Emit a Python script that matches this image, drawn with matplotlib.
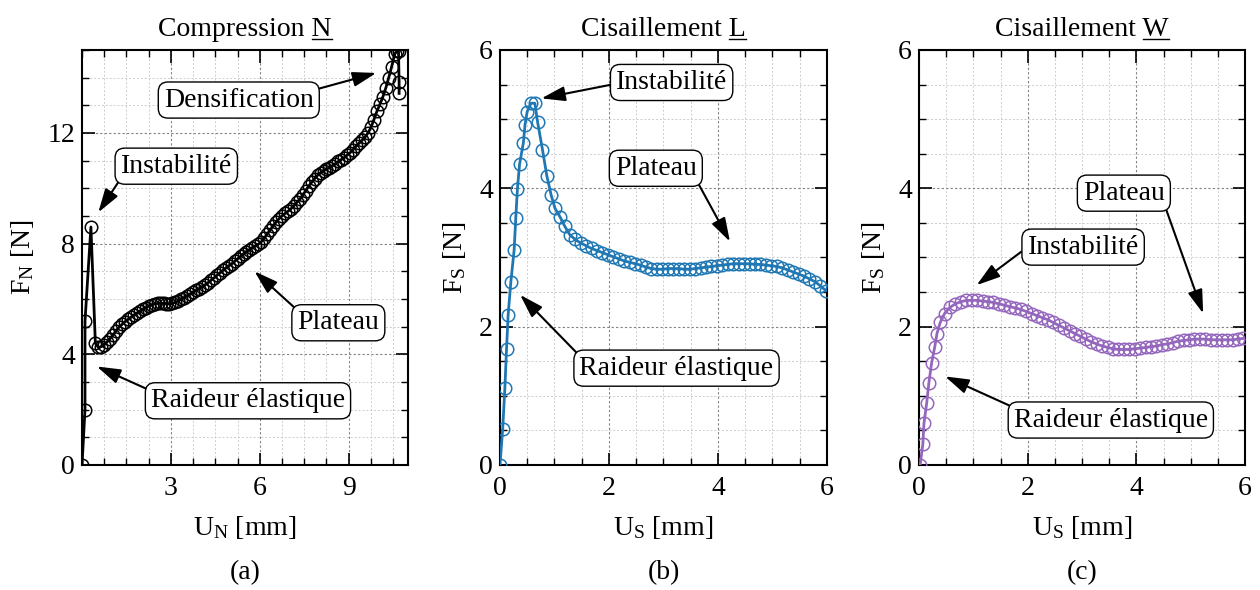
import matplotlib
matplotlib.use("Agg")
import matplotlib.pyplot as plt
from matplotlib.ticker import MultipleLocator
from matplotlib.lines import Line2D

plt.rcParams['font.family'] = ['Liberation Serif', 'DejaVu Serif']
plt.rcParams['mathtext.fontset'] = 'custom'
plt.rcParams['mathtext.rm'] = 'Liberation Serif'
plt.rcParams['mathtext.it'] = 'Liberation Serif:italic'

FS = 20

# (a) compression N
u_n = [0.00, 0.10, 0.10, 0.30, 0.45, 0.55, 0.65, 0.75, 0.85, 0.95,
       1.05, 1.15, 1.25, 1.35, 1.45, 1.55, 1.65, 1.75, 1.85, 1.95,
       2.05, 2.15, 2.25, 2.35, 2.45, 2.55, 2.65, 2.75, 2.85, 2.95,
       3.05, 3.15, 3.25, 3.35, 3.45, 3.55, 3.65, 3.75, 3.85, 3.95,
       4.05, 4.15, 4.25, 4.35, 4.45, 4.55, 4.65, 4.75, 4.85, 4.95,
       5.05, 5.15, 5.25, 5.35, 5.45, 5.55, 5.65, 5.75, 5.85, 5.95,
       6.05, 6.15, 6.25, 6.35, 6.45, 6.55, 6.65, 6.75, 6.85, 6.95,
       7.05, 7.15, 7.25, 7.35, 7.45, 7.55, 7.65, 7.75, 7.85, 7.95,
       8.05, 8.15, 8.25, 8.35, 8.45, 8.55, 8.65, 8.75, 8.85, 8.95,
       9.05, 9.15, 9.25, 9.35, 9.45, 9.55, 9.65, 9.75, 9.85, 9.95,
       10.05, 10.15, 10.25, 10.35, 10.45, 10.55, 10.62, 10.68, 10.70, 10.70]
f_n = [0.00, 2.00, 5.20, 8.60, 4.40, 4.25, 4.28, 4.35, 4.45, 4.57,
       4.70, 4.85, 4.98, 5.08, 5.18, 5.26, 5.34, 5.42, 5.49, 5.55,
       5.62, 5.68, 5.74, 5.78, 5.82, 5.84, 5.85, 5.84, 5.83, 5.82,
       5.84, 5.88, 5.93, 5.99, 6.05, 6.12, 6.18, 6.25, 6.31, 6.37,
       6.44, 6.51, 6.59, 6.67, 6.76, 6.85, 6.94, 7.03, 7.12, 7.20,
       7.27, 7.36, 7.45, 7.54, 7.63, 7.71, 7.78, 7.86, 7.92, 7.98,
       8.07, 8.20, 8.35, 8.50, 8.64, 8.78, 8.90, 9.00, 9.09, 9.17,
       9.26, 9.37, 9.49, 9.60, 9.75, 9.92, 10.08, 10.22, 10.35, 10.47,
       10.56, 10.63, 10.69, 10.75, 10.81, 10.89, 10.97, 11.04, 11.11, 11.20,
       11.29, 11.40, 11.52, 11.63, 11.73, 11.85, 12.00, 12.20, 12.48, 12.78,
       13.03, 13.30, 13.62, 14.00, 14.40, 14.85, 14.95, 14.95, 13.86, 13.43]

# (b) cisaillement L
u_l = [0.00, 0.05, 0.09, 0.12, 0.15, 0.20, 0.26, 0.29, 0.32, 0.36,
       0.43, 0.46, 0.50, 0.57, 0.64, 0.69, 0.78, 0.86, 0.94, 1.01,
       1.10, 1.19, 1.28, 1.38, 1.48, 1.58, 1.68, 1.78, 1.88, 1.98,
       2.08, 2.18, 2.28, 2.38, 2.48, 2.58, 2.68, 2.78, 2.88, 2.98,
       3.08, 3.18, 3.28, 3.38, 3.48, 3.58, 3.68, 3.78, 3.88, 3.98,
       4.08, 4.18, 4.28, 4.38, 4.48, 4.58, 4.68, 4.78, 4.88, 4.98,
       5.08, 5.18, 5.28, 5.38, 5.48, 5.58, 5.68, 5.78, 5.88, 5.98]
f_l = [0.00, 0.52, 1.11, 1.67, 2.17, 2.65, 3.11, 3.57, 3.99, 4.35,
       4.66, 4.92, 5.11, 5.23, 5.23, 4.96, 4.56, 4.18, 3.90, 3.71,
       3.59, 3.45, 3.33, 3.26, 3.21, 3.17, 3.13, 3.10, 3.07, 3.04,
       3.01, 2.98, 2.95, 2.93, 2.91, 2.89, 2.86, 2.84, 2.83, 2.83,
       2.84, 2.84, 2.84, 2.83, 2.83, 2.84, 2.85, 2.86, 2.87, 2.88,
       2.89, 2.90, 2.91, 2.91, 2.91, 2.91, 2.90, 2.90, 2.89, 2.88,
       2.87, 2.85, 2.82, 2.79, 2.76, 2.73, 2.69, 2.65, 2.59, 2.52]

# (c) cisaillement W
u_w = [0.02, 0.07, 0.09, 0.14, 0.18, 0.23, 0.29, 0.33, 0.39, 0.47,
       0.57, 0.67, 0.77, 0.87, 0.97, 1.07, 1.17, 1.27, 1.37, 1.47,
       1.57, 1.67, 1.77, 1.87, 1.97, 2.07, 2.17, 2.27, 2.37, 2.47,
       2.57, 2.67, 2.77, 2.87, 2.97, 3.07, 3.17, 3.27, 3.37, 3.47,
       3.57, 3.67, 3.77, 3.87, 3.97, 4.07, 4.17, 4.27, 4.37, 4.47,
       4.57, 4.67, 4.77, 4.87, 4.97, 5.07, 5.17, 5.27, 5.37, 5.47,
       5.57, 5.67, 5.77, 5.87, 5.97]
f_w = [0.00, 0.30, 0.60, 0.89, 1.18, 1.47, 1.71, 1.90, 2.06, 2.19,
       2.28, 2.33, 2.36, 2.38, 2.38, 2.38, 2.37, 2.36, 2.35, 2.33,
       2.31, 2.29, 2.27, 2.25, 2.22, 2.19, 2.16, 2.13, 2.10, 2.06,
       2.02, 1.98, 1.94, 1.90, 1.86, 1.82, 1.78, 1.75, 1.72, 1.70,
       1.68, 1.67, 1.67, 1.67, 1.68, 1.69, 1.70, 1.71, 1.72, 1.74,
       1.75, 1.77, 1.79, 1.80, 1.81, 1.82, 1.82, 1.82, 1.81, 1.81,
       1.81, 1.81, 1.81, 1.82, 1.83]

titles = [("Compression ", "N"), ("Cisaillement ", "L"), ("Cisaillement ", "W")]
xlabels = [r"$\mathregular{U_N}$ [mm]", r"$\mathregular{U_S}$ [mm]", r"$\mathregular{U_S}$ [mm]"]
ylabels = [r"$\mathregular{F_N}$ [N]", r"$\mathregular{F_S}$ [N]", r"$\mathregular{F_S}$ [N]"]
tags = ["(a)", "(b)", "(c)"]
colors = ["black", "#1f77b4", "#9467bd"]

# annotations: text, text centre, arrow tip, where the arrow leaves the box
notes = [
    [("Densification", (5.29, 13.19), (9.93, 14.17), (1, 0.9)),
     ("Instabilité", (3.18, 10.8), (0.55, 9.13), (0, 0)),
     ("Plateau", (8.65, 5.14), (5.82, 7.0), (0, 1)),
     ("Raideur élastique", (5.6, 2.32), (0.5, 3.56), (0, 0.9))],
    [("Instabilité", (3.15, 5.53), (0.76, 5.30), (0, 0.45)),
     ("Plateau", (2.86, 4.29), (4.22, 3.23), (1, 0)),
     ("Raideur élastique", (3.24, 1.40), (0.37, 2.46), (0, 1))],
    [("Plateau", (3.77, 3.93), (5.23, 2.19), (1, 0)),
     ("Instabilité", (3.02, 3.15), (1.06, 2.60), (0, 0.5)),
     ("Raideur élastique", (3.53, 0.65), (0.48, 1.28), (0, 1))],
]

fig = plt.figure(figsize=(12.6, 5.9), dpi=100)
rects = [[0.0651, 0.2119, 0.2587, 0.7034],
         [0.3968, 0.2119, 0.2595, 0.7034],
         [0.7294, 0.2119, 0.2587, 0.7034]]
data = [(u_n, f_n), (u_l, f_l), (u_w, f_w)]
axes = []

for i in range(3):
    ax = fig.add_axes(rects[i])
    axes.append(ax)
    x, y = data[i]
    ax.plot(x, y, '-', color=colors[i], lw=2.0, marker='o', ms=9,
            mfc='none', mec=colors[i], mew=1.1, zorder=3)

    if i == 0:
        ax.set_xlim(0, 11)
        ax.set_ylim(0, 15)
        ax.set_xticks([3, 6, 9])
        ax.xaxis.set_minor_locator(MultipleLocator(0.75))
        ax.yaxis.set_major_locator(MultipleLocator(4))
        ax.yaxis.set_minor_locator(MultipleLocator(1))
    else:
        ax.set_xlim(0, 6)
        ax.set_ylim(0, 6)
        ax.xaxis.set_major_locator(MultipleLocator(2))
        ax.xaxis.set_minor_locator(MultipleLocator(0.5))
        ax.yaxis.set_major_locator(MultipleLocator(2))
        ax.yaxis.set_minor_locator(MultipleLocator(0.5))

    ax.tick_params(which='both', direction='in', top=True, right=True, labelsize=FS)
    ax.tick_params(which='major', length=9, width=1.2)
    ax.tick_params(which='minor', length=5, width=1.0)
    ax.tick_params(axis='x', which='major', pad=8)
    ax.tick_params(axis='y', which='major', pad=5)
    ax.grid(which='major', ls=(0, (2, 2)), color='0.5', lw=0.8)
    ax.grid(which='minor', ls=(0, (2, 2)), color='0.8', lw=0.7)
    ax.set_axisbelow(True)
    for s in ax.spines.values():
        s.set_linewidth(1.5)

    ax.set_xlabel(xlabels[i], fontsize=FS, labelpad=9)
    ax.set_ylabel(ylabels[i], fontsize=FS, labelpad=8)
    ax.set_title(titles[i][0] + titles[i][1], fontsize=FS, pad=10)

    for txt, pos, tip, rp in notes[i]:
        ax.annotate(txt, xy=tip, xytext=pos, ha='center', va='center', fontsize=FS,
                    bbox=dict(boxstyle='round,pad=0.2,rounding_size=0.35', fc='white', ec='black', lw=1.0),
                    arrowprops=dict(arrowstyle='-|>,head_length=0.8,head_width=0.25', color='black',
                                    lw=1.5, relpos=rp, shrinkA=0, shrinkB=0, mutation_scale=18),
                    zorder=5)

    cx = rects[i][0] + rects[i][2] / 2
    fig.text(cx, 0.029, tags[i], ha='center', va='center', fontsize=FS)

# underline the last letter of every title
fig.canvas.draw()
renderer = fig.canvas.get_renderer()
inv = fig.transFigure.inverted()
for i, ax in enumerate(axes):
    t = ax.title
    bb = t.get_window_extent(renderer)
    tmp = fig.text(0, 0, titles[i][1], fontsize=FS)
    w = tmp.get_window_extent(renderer).width
    tmp.remove()
    yline = bb.y0 + 3.5
    p0 = inv.transform((bb.x1 - w, yline))
    p1 = inv.transform((bb.x1, yline))
    fig.add_artist(Line2D([p0[0], p1[0]], [p0[1], p1[1]], color='black', lw=1.0,
                          transform=fig.transFigure))

fig.savefig("out.png", dpi=100)
